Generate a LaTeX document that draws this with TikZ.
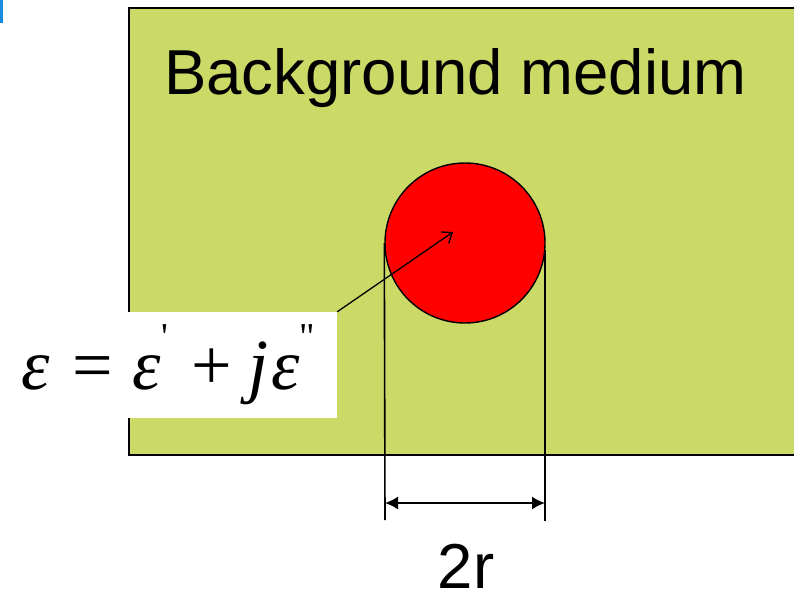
\RequirePackage{fix-cm}
\documentclass[tikz,border=0pt]{standalone}
\usepackage{fontspec}
\setmainfont{Liberation Sans}
\newfontfamily\eqfont{Liberation Serif}
\usetikzlibrary{positioning,arrows.meta}

\definecolor{mediumgreen}{RGB}{203,217,102}
\definecolor{tabblue}{RGB}{26,140,224}

\newcommand{\epsi}{\textit{ε}}
\newcommand{\upmark}[1]{\raisebox{0.55em}{\fontsize{38}{38}\selectfont\symbol{#1}}}

\begin{document}
\begin{tikzpicture}[x=1pt, y=-1pt,
  medium/.style={draw, line width=2.6pt, fill=mediumgreen},
  ball/.style={draw, circle, line width=1.4pt, fill=red, minimum size=160pt, inner sep=0pt},
  eqbox/.style={fill=white, inner sep=0pt, minimum width=337pt, minimum height=106pt},
  big/.style={font=\fontsize{63.5}{66}\selectfont},
  guide/.style={line width=1.6pt},
  arr/.style={-{Straight Barb[length=9pt, width=14pt]}, line width=1.3pt},
  dim/.style={{Latex[length=13pt, width=13pt]}-{Latex[length=13pt, width=13pt]}, line width=1.6pt}]
\useasboundingbox (0,0) rectangle (794,594);
% slide marker and background medium
\fill[tabblue] (0,0) rectangle (3,23);
\draw[medium] (129,8) rectangle (800,455);
\node[big, anchor=base west, inner sep=0pt] (title) at (164,94) {Background medium};
% scatterer
\node[ball] (sphere) at (465,243) {};
\coordinate (tip) at (453,232);
% permittivity label
\node[eqbox] (eps) at (168.5,365)
  {\eqfont\fontsize{72}{74}\selectfont
   \epsi\hspace{22pt}=\hspace{20pt}\epsi\upmark{39}\hspace{24pt}+\hspace{16pt}\textit{j}\hspace{3pt}\epsi\upmark{34}};
\draw[arr] (eps.north east) -- (tip);
% diameter
\coordinate (lb) at (385,520);
\coordinate (ra) at (545,250);
\coordinate (rb) at (545,521);
\draw[guide] (sphere.west) -- (lb);
\draw[guide] (ra) -- (rb);
\coordinate (dl) at (385,503);
\coordinate (dr) at (545,503);
\draw[dim] (dl) -- (dr);
\node[big, inner sep=0pt] (diam) at (466,566) {2r};
\end{tikzpicture}
\end{document}
